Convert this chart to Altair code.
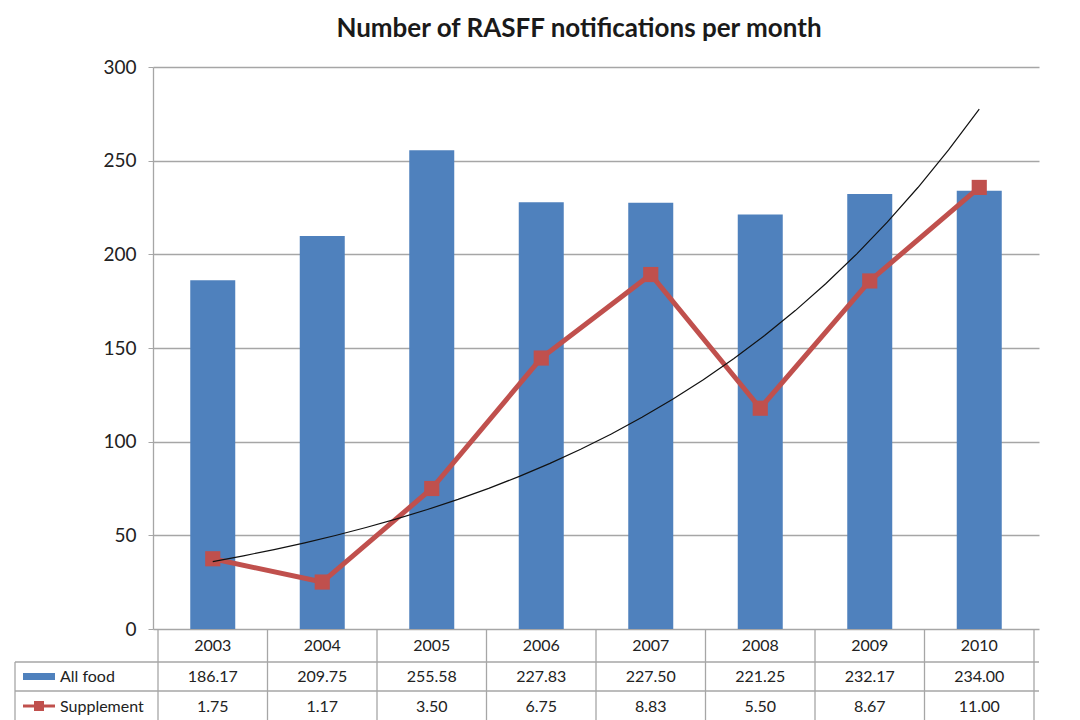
import altair as alt
import pandas as pd

years = [2003, 2004, 2005, 2006, 2007, 2008, 2009, 2010]
all_food = [186.17, 209.75, 255.58, 227.83, 227.50, 221.25, 232.17, 234.00]
supplement = [1.75, 1.17, 3.50, 6.75, 8.83, 5.50, 8.67, 11.00]
left_ticks = [0, 50, 100, 150, 200, 250, 300]
right_ticks = [0, 2, 4, 6, 8, 10, 12, 14]
series_names = ["All food", "Supplement"]
title_text = "Number of RASFF notifications per month"

W, H = 886, 562
BLUE = "#4f81bd"
RED = "#c0504d"
GRID = "#a6a6a6"
FONT = "Lato"
TXT = "#222222"

df = pd.DataFrame({"year": years, "all_food": all_food, "supplement": supplement})
bounds = pd.DataFrame({"b": [y - 0.5 for y in years] + [years[-1] + 0.5]})
one = pd.DataFrame({"k": [0]})
xdom = [years[0] - 0.5, years[-1] + 0.5]


def X(field="year"):
    return alt.X(f"{field}:Q", scale=alt.Scale(domain=xdom, nice=False, zero=False), axis=None)


bars = alt.Chart(df).mark_bar(size=45, color=BLUE).encode(
    x=X(),
    y=alt.Y("all_food:Q", scale=alt.Scale(domain=[0, 300], nice=False),
            axis=alt.Axis(orient="left", values=left_ticks, title=None, grid=True,
                          gridColor=GRID, gridWidth=1.3, domainColor=GRID, domainWidth=1.3,
                          tickColor=GRID, tickSize=5, labelFont=FONT, labelFontSize=19,
                          labelColor=TXT, labelPadding=12)),
)

sy = alt.Scale(domain=[0, 14], nice=False)
line = alt.Chart(df).mark_line(color=RED, strokeWidth=5).encode(
    x=X(),
    y=alt.Y("supplement:Q", scale=sy,
            axis=alt.Axis(orient="right", values=right_ticks, title=None, grid=False,
                          domainColor=GRID, domainWidth=1.3, tickColor=GRID, tickSize=7,
                          tickWidth=1.3, labelFont=FONT, labelFontSize=19, labelColor=TXT,
                          labelPadding=12)),
)
pts = alt.Chart(df).mark_square(size=230, color=RED, opacity=1).encode(
    x=X(), y=alt.Y("supplement:Q", scale=sy, axis=None)
)
trend = (
    alt.Chart(df)
    .transform_calculate(ly="log(datum.supplement)")
    .transform_regression("year", "ly", method="poly", order=1)
    .transform_calculate(tr="exp(datum.ly)")
    .mark_line(color="#111111", strokeWidth=1.2)
    .encode(x=X(), y=alt.Y("tr:Q", scale=sy, axis=None))
)
supp_layer = alt.layer(line, pts, trend)

# data table
R1, R2 = H + 33, H + 62
vr = alt.Chart(bounds).mark_rule(color=GRID, strokeWidth=1.3).encode(
    x=X("b"), y=alt.value(H), y2=alt.value(H + 100)
)
hr1 = alt.Chart(one).mark_rule(color=GRID, strokeWidth=1.3).encode(
    x=alt.value(-138), x2=alt.value(W), y=alt.value(R1)
)
hr2 = alt.Chart(one).mark_rule(color=GRID, strokeWidth=1.3).encode(
    x=alt.value(-138), x2=alt.value(W), y=alt.value(R2)
)
lb = alt.Chart(one).mark_rule(color=GRID, strokeWidth=1.3).encode(
    x=alt.value(-138), y=alt.value(R1), y2=alt.value(H + 100)
)

tkw = dict(font=FONT, fontSize=16, color=TXT, baseline="middle")
year_t = alt.Chart(df).mark_text(**tkw).encode(
    x=X(), y=alt.value(H + 17), text=alt.Text("year:Q", format="d"))
food_t = alt.Chart(df).mark_text(**tkw).encode(
    x=X(), y=alt.value(H + 48), text=alt.Text("all_food:Q", format=".2f"))
supp_t = alt.Chart(df).mark_text(**tkw).encode(
    x=X(), y=alt.value(H + 78), text=alt.Text("supplement:Q", format=".2f"))

# legend keys in the table
key_blue = alt.Chart(one).mark_rect(color=BLUE).encode(
    x=alt.value(-130), x2=alt.value(-98), y=alt.value(H + 44), y2=alt.value(H + 51))
key_red = alt.Chart(one).mark_rule(color=RED, strokeWidth=3).encode(
    x=alt.value(-130), x2=alt.value(-98), y=alt.value(H + 77))
key_sq = alt.Chart(one).mark_square(color=RED, size=100, opacity=1).encode(
    x=alt.value(-114), y=alt.value(H + 77))
lab1 = alt.Chart(one).mark_text(align="left", **tkw).encode(
    x=alt.value(-93), y=alt.value(H + 48), text=alt.value(series_names[0]))
lab2 = alt.Chart(one).mark_text(align="left", **tkw).encode(
    x=alt.value(-93), y=alt.value(H + 78), text=alt.value(series_names[1]))

chart = (
    alt.layer(bars, supp_layer, vr, hr1, hr2, lb, year_t, food_t, supp_t,
              key_blue, key_red, key_sq, lab1, lab2)
    .resolve_scale(y="independent")
    .properties(
        width=W, height=H,
        title=alt.TitleParams(title_text, font=FONT, fontSize=26, fontWeight="bold",
                              color="#1a1a1a", anchor="middle", frame="group",
                              offset=16, dx=-17),
        padding={"left": 6, "top": 8, "right": 5, "bottom": 0},
    )
    .configure_view(stroke=None)
)

chart.save("out.html", embed_options={"renderer": "svg", "actions": False})
